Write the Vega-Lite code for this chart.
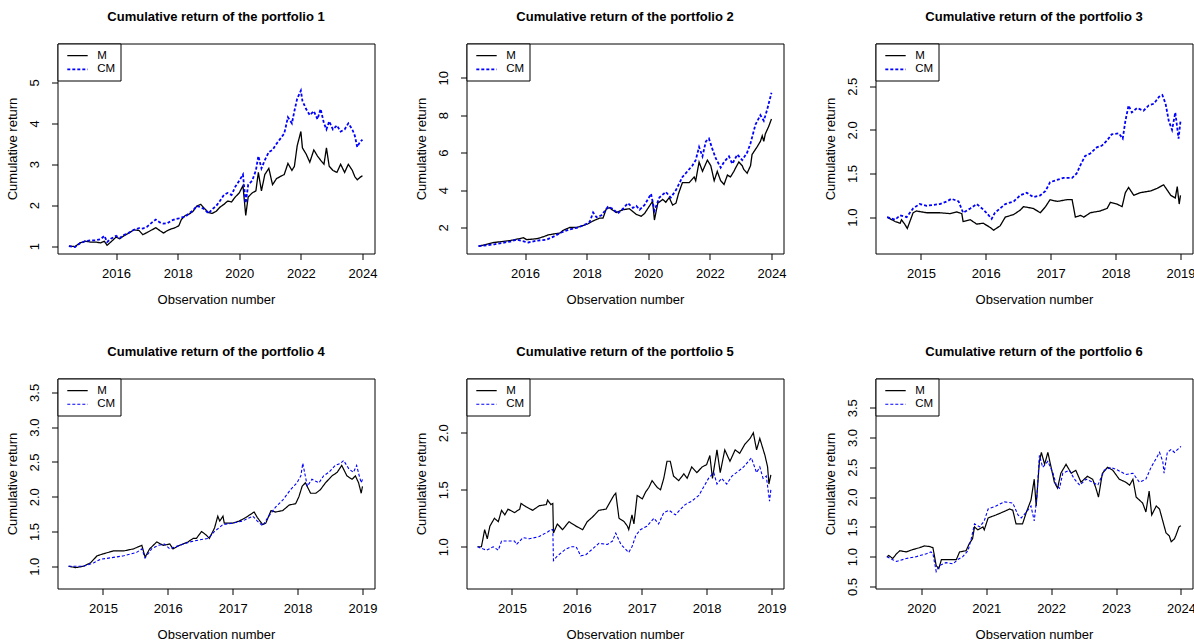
{
  "$schema": "https://vega.github.io/schema/vega-lite/v6.json",
  "autosize": {"type": "none"},
  "padding": {"left": 57.5, "top": 43.5, "right": 1136.5, "bottom": 600.5},
  "background": "white",
  "config": {
    "font": "Liberation Sans",
    "view": {"stroke": "black", "strokeWidth": 1},
    "title": {"fontSize": 13, "fontWeight": "bold", "color": "black", "anchor": "middle", "frame": "group", "baseline": "alphabetic", "offset": 19},
    "axis": {"domain": false, "grid": false, "tickColor": "black", "tickSize": 6, "tickWidth": 1, "labelFontSize": 13, "labelColor": "black", "titleFontSize": 13, "titleFontWeight": "normal", "titleColor": "black", "labelOverlap": false, "labelFlush": false},
    "axisX": {"labelPadding": 18.2, "labelBaseline": "alphabetic", "titleY": 50, "titleBaseline": "alphabetic"},
    "axisY": {"labelAngle": 270, "labelAlign": "center", "labelBaseline": "alphabetic", "labelPadding": 13, "titleX": -40.8, "titleBaseline": "alphabetic", "titleAngle": 270},
    "legend": {"orient": "top-left", "offset": 0, "padding": 5.2, "strokeColor": "black", "fillColor": "white", "cornerRadius": 0, "labelFontSize": 11.5, "labelColor": "black", "labelOffset": 20.6, "symbolType": "M-0.4,0H3", "symbolSize": 144, "rowPadding": 0.6, "labelLimit": 0}
  },
  "datasets": {
    "p1": [
      {"t":2014.47,"s":"M","v":1.00},{"t":2014.67,"s":"M","v":0.99},{"t":2014.83,"s":"M","v":1.08},{"t":2015.00,"s":"M","v":1.12},{"t":2015.17,"s":"M","v":1.10},{"t":2015.33,"s":"M","v":1.10},{"t":2015.50,"s":"M","v":1.08},{"t":2015.62,"s":"M","v":1.12},{"t":2015.71,"s":"M","v":1.02},{"t":2015.83,"s":"M","v":1.10},{"t":2016.00,"s":"M","v":1.22},{"t":2016.12,"s":"M","v":1.18},{"t":2016.25,"s":"M","v":1.25},{"t":2016.42,"s":"M","v":1.32},{"t":2016.58,"s":"M","v":1.40},{"t":2016.75,"s":"M","v":1.38},{"t":2016.87,"s":"M","v":1.28},{"t":2017.00,"s":"M","v":1.33},{"t":2017.17,"s":"M","v":1.40},{"t":2017.29,"s":"M","v":1.45},{"t":2017.42,"s":"M","v":1.38},{"t":2017.54,"s":"M","v":1.32},{"t":2017.67,"s":"M","v":1.38},{"t":2017.79,"s":"M","v":1.42},{"t":2017.92,"s":"M","v":1.45},{"t":2018.04,"s":"M","v":1.50},{"t":2018.12,"s":"M","v":1.65},{"t":2018.25,"s":"M","v":1.75},{"t":2018.37,"s":"M","v":1.78},{"t":2018.50,"s":"M","v":1.85},{"t":2018.62,"s":"M","v":1.98},{"t":2018.75,"s":"M","v":2.02},{"t":2018.87,"s":"M","v":1.92},{"t":2019.00,"s":"M","v":1.82},{"t":2019.12,"s":"M","v":1.80},{"t":2019.25,"s":"M","v":1.85},{"t":2019.37,"s":"M","v":1.95},{"t":2019.50,"s":"M","v":2.02},{"t":2019.62,"s":"M","v":2.10},{"t":2019.75,"s":"M","v":2.08},{"t":2019.87,"s":"M","v":2.20},{"t":2020.00,"s":"M","v":2.30},{"t":2020.12,"s":"M","v":2.48},{"t":2020.21,"s":"M","v":1.75},{"t":2020.29,"s":"M","v":2.20},{"t":2020.42,"s":"M","v":2.30},{"t":2020.54,"s":"M","v":2.35},{"t":2020.62,"s":"M","v":2.80},{"t":2020.72,"s":"M","v":2.35},{"t":2020.83,"s":"M","v":2.75},{"t":2020.96,"s":"M","v":2.90},{"t":2021.08,"s":"M","v":2.50},{"t":2021.21,"s":"M","v":2.65},{"t":2021.33,"s":"M","v":2.70},{"t":2021.46,"s":"M","v":2.75},{"t":2021.58,"s":"M","v":3.02},{"t":2021.71,"s":"M","v":2.85},{"t":2021.79,"s":"M","v":2.95},{"t":2021.88,"s":"M","v":3.45},{"t":2022.00,"s":"M","v":3.80},{"t":2022.05,"s":"M","v":3.40},{"t":2022.17,"s":"M","v":3.25},{"t":2022.29,"s":"M","v":3.05},{"t":2022.42,"s":"M","v":3.35},{"t":2022.54,"s":"M","v":3.20},{"t":2022.64,"s":"M","v":3.10},{"t":2022.75,"s":"M","v":3.00},{"t":2022.83,"s":"M","v":3.40},{"t":2022.92,"s":"M","v":2.95},{"t":2023.04,"s":"M","v":2.85},{"t":2023.17,"s":"M","v":2.80},{"t":2023.29,"s":"M","v":3.00},{"t":2023.42,"s":"M","v":2.80},{"t":2023.54,"s":"M","v":3.00},{"t":2023.67,"s":"M","v":2.85},{"t":2023.75,"s":"M","v":2.70},{"t":2023.83,"s":"M","v":2.62},{"t":2023.92,"s":"M","v":2.68},{"t":2024.00,"s":"M","v":2.72},
      {"t":2014.47,"s":"CM","v":1.00},{"t":2014.67,"s":"CM","v":0.98},{"t":2014.83,"s":"CM","v":1.07},{"t":2015.00,"s":"CM","v":1.12},{"t":2015.17,"s":"CM","v":1.14},{"t":2015.33,"s":"CM","v":1.14},{"t":2015.50,"s":"CM","v":1.17},{"t":2015.62,"s":"CM","v":1.25},{"t":2015.71,"s":"CM","v":1.10},{"t":2015.83,"s":"CM","v":1.18},{"t":2016.00,"s":"CM","v":1.25},{"t":2016.12,"s":"CM","v":1.20},{"t":2016.25,"s":"CM","v":1.27},{"t":2016.42,"s":"CM","v":1.33},{"t":2016.58,"s":"CM","v":1.40},{"t":2016.75,"s":"CM","v":1.44},{"t":2016.87,"s":"CM","v":1.43},{"t":2017.00,"s":"CM","v":1.47},{"t":2017.17,"s":"CM","v":1.58},{"t":2017.29,"s":"CM","v":1.65},{"t":2017.42,"s":"CM","v":1.58},{"t":2017.54,"s":"CM","v":1.55},{"t":2017.67,"s":"CM","v":1.56},{"t":2017.79,"s":"CM","v":1.62},{"t":2017.92,"s":"CM","v":1.66},{"t":2018.04,"s":"CM","v":1.68},{"t":2018.12,"s":"CM","v":1.70},{"t":2018.25,"s":"CM","v":1.72},{"t":2018.37,"s":"CM","v":1.80},{"t":2018.50,"s":"CM","v":1.87},{"t":2018.62,"s":"CM","v":1.98},{"t":2018.75,"s":"CM","v":1.95},{"t":2018.87,"s":"CM","v":1.90},{"t":2019.00,"s":"CM","v":1.80},{"t":2019.12,"s":"CM","v":1.90},{"t":2019.25,"s":"CM","v":1.98},{"t":2019.37,"s":"CM","v":2.10},{"t":2019.50,"s":"CM","v":2.25},{"t":2019.62,"s":"CM","v":2.30},{"t":2019.75,"s":"CM","v":2.25},{"t":2019.87,"s":"CM","v":2.45},{"t":2020.00,"s":"CM","v":2.60},{"t":2020.12,"s":"CM","v":2.75},{"t":2020.21,"s":"CM","v":2.05},{"t":2020.29,"s":"CM","v":2.50},{"t":2020.42,"s":"CM","v":2.60},{"t":2020.54,"s":"CM","v":2.85},{"t":2020.62,"s":"CM","v":3.20},{"t":2020.72,"s":"CM","v":2.90},{"t":2020.83,"s":"CM","v":3.10},{"t":2020.96,"s":"CM","v":3.30},{"t":2021.08,"s":"CM","v":3.35},{"t":2021.21,"s":"CM","v":3.50},{"t":2021.33,"s":"CM","v":3.62},{"t":2021.46,"s":"CM","v":3.75},{"t":2021.58,"s":"CM","v":4.15},{"t":2021.71,"s":"CM","v":4.00},{"t":2021.79,"s":"CM","v":4.30},{"t":2021.88,"s":"CM","v":4.60},{"t":2022.00,"s":"CM","v":4.80},{"t":2022.05,"s":"CM","v":4.55},{"t":2022.17,"s":"CM","v":4.35},{"t":2022.29,"s":"CM","v":4.20},{"t":2022.42,"s":"CM","v":4.30},{"t":2022.54,"s":"CM","v":4.10},{"t":2022.64,"s":"CM","v":4.35},{"t":2022.75,"s":"CM","v":4.00},{"t":2022.83,"s":"CM","v":3.85},{"t":2022.92,"s":"CM","v":4.05},{"t":2023.04,"s":"CM","v":3.85},{"t":2023.17,"s":"CM","v":3.95},{"t":2023.29,"s":"CM","v":3.80},{"t":2023.42,"s":"CM","v":3.85},{"t":2023.54,"s":"CM","v":4.00},{"t":2023.67,"s":"CM","v":3.85},{"t":2023.75,"s":"CM","v":3.70},{"t":2023.83,"s":"CM","v":3.42},{"t":2023.92,"s":"CM","v":3.55},{"t":2024.00,"s":"CM","v":3.60}
    ],
    "p2": [
      {"t":2014.49,"s":"M","v":1.00},{"t":2015.00,"s":"M","v":1.20},{"t":2015.52,"s":"M","v":1.30},{"t":2015.95,"s":"M","v":1.45},{"t":2016.05,"s":"M","v":1.35},{"t":2016.38,"s":"M","v":1.40},{"t":2016.59,"s":"M","v":1.50},{"t":2016.75,"s":"M","v":1.60},{"t":2016.91,"s":"M","v":1.65},{"t":2017.13,"s":"M","v":1.70},{"t":2017.24,"s":"M","v":1.85},{"t":2017.45,"s":"M","v":2.00},{"t":2017.67,"s":"M","v":2.00},{"t":2017.88,"s":"M","v":2.10},{"t":2018.05,"s":"M","v":2.20},{"t":2018.21,"s":"M","v":2.35},{"t":2018.42,"s":"M","v":2.50},{"t":2018.53,"s":"M","v":2.50},{"t":2018.64,"s":"M","v":3.00},{"t":2018.74,"s":"M","v":3.05},{"t":2018.96,"s":"M","v":2.80},{"t":2019.18,"s":"M","v":2.95},{"t":2019.39,"s":"M","v":3.00},{"t":2019.61,"s":"M","v":2.70},{"t":2019.77,"s":"M","v":2.60},{"t":2019.88,"s":"M","v":2.75},{"t":2019.98,"s":"M","v":3.00},{"t":2020.14,"s":"M","v":3.40},{"t":2020.20,"s":"M","v":2.40},{"t":2020.31,"s":"M","v":3.30},{"t":2020.47,"s":"M","v":3.50},{"t":2020.57,"s":"M","v":3.35},{"t":2020.68,"s":"M","v":3.60},{"t":2020.79,"s":"M","v":3.20},{"t":2020.90,"s":"M","v":3.30},{"t":2020.98,"s":"M","v":3.80},{"t":2021.11,"s":"M","v":4.40},{"t":2021.33,"s":"M","v":4.40},{"t":2021.49,"s":"M","v":4.70},{"t":2021.54,"s":"M","v":4.50},{"t":2021.65,"s":"M","v":5.50},{"t":2021.76,"s":"M","v":5.00},{"t":2021.92,"s":"M","v":5.60},{"t":2022.03,"s":"M","v":5.30},{"t":2022.14,"s":"M","v":4.50},{"t":2022.24,"s":"M","v":5.00},{"t":2022.35,"s":"M","v":4.50},{"t":2022.46,"s":"M","v":4.30},{"t":2022.57,"s":"M","v":4.80},{"t":2022.67,"s":"M","v":4.70},{"t":2022.78,"s":"M","v":5.00},{"t":2022.84,"s":"M","v":5.20},{"t":2022.94,"s":"M","v":5.50},{"t":2023.05,"s":"M","v":5.30},{"t":2023.10,"s":"M","v":5.10},{"t":2023.21,"s":"M","v":4.90},{"t":2023.32,"s":"M","v":5.30},{"t":2023.37,"s":"M","v":5.90},{"t":2023.53,"s":"M","v":6.30},{"t":2023.64,"s":"M","v":6.60},{"t":2023.70,"s":"M","v":6.90},{"t":2023.75,"s":"M","v":6.60},{"t":2023.80,"s":"M","v":7.00},{"t":2023.91,"s":"M","v":7.40},{"t":2024.00,"s":"M","v":7.80},
      {"t":2014.49,"s":"CM","v":1.00},{"t":2015.00,"s":"CM","v":1.10},{"t":2015.52,"s":"CM","v":1.25},{"t":2015.73,"s":"CM","v":1.35},{"t":2016.11,"s":"CM","v":1.20},{"t":2016.38,"s":"CM","v":1.30},{"t":2016.70,"s":"CM","v":1.35},{"t":2016.97,"s":"CM","v":1.55},{"t":2017.13,"s":"CM","v":1.70},{"t":2017.45,"s":"CM","v":1.90},{"t":2017.72,"s":"CM","v":2.00},{"t":2017.94,"s":"CM","v":2.15},{"t":2018.10,"s":"CM","v":2.30},{"t":2018.21,"s":"CM","v":2.80},{"t":2018.32,"s":"CM","v":2.55},{"t":2018.48,"s":"CM","v":2.65},{"t":2018.69,"s":"CM","v":3.10},{"t":2018.85,"s":"CM","v":3.00},{"t":2019.01,"s":"CM","v":2.75},{"t":2019.18,"s":"CM","v":3.00},{"t":2019.34,"s":"CM","v":3.30},{"t":2019.50,"s":"CM","v":3.05},{"t":2019.61,"s":"CM","v":3.15},{"t":2019.72,"s":"CM","v":2.95},{"t":2019.88,"s":"CM","v":3.20},{"t":2020.09,"s":"CM","v":3.80},{"t":2020.20,"s":"CM","v":2.90},{"t":2020.36,"s":"CM","v":3.60},{"t":2020.57,"s":"CM","v":3.90},{"t":2020.73,"s":"CM","v":3.60},{"t":2020.90,"s":"CM","v":4.00},{"t":2021.11,"s":"CM","v":4.70},{"t":2021.27,"s":"CM","v":5.00},{"t":2021.43,"s":"CM","v":5.30},{"t":2021.54,"s":"CM","v":5.60},{"t":2021.65,"s":"CM","v":6.30},{"t":2021.76,"s":"CM","v":5.80},{"t":2021.87,"s":"CM","v":6.60},{"t":2021.97,"s":"CM","v":6.75},{"t":2022.08,"s":"CM","v":6.20},{"t":2022.19,"s":"CM","v":5.70},{"t":2022.35,"s":"CM","v":5.20},{"t":2022.46,"s":"CM","v":5.50},{"t":2022.62,"s":"CM","v":5.80},{"t":2022.73,"s":"CM","v":5.40},{"t":2022.89,"s":"CM","v":5.90},{"t":2023.05,"s":"CM","v":5.60},{"t":2023.21,"s":"CM","v":6.00},{"t":2023.32,"s":"CM","v":6.50},{"t":2023.48,"s":"CM","v":7.50},{"t":2023.64,"s":"CM","v":8.00},{"t":2023.75,"s":"CM","v":7.70},{"t":2023.86,"s":"CM","v":8.30},{"t":2024.00,"s":"CM","v":9.20}
    ],
    "p3": [
      {"t":2014.48,"s":"M","v":1.00},{"t":2014.60,"s":"M","v":0.95},{"t":2014.68,"s":"M","v":0.93},{"t":2014.70,"s":"M","v":0.97},{"t":2014.75,"s":"M","v":0.92},{"t":2014.79,"s":"M","v":0.87},{"t":2014.88,"s":"M","v":1.05},{"t":2014.93,"s":"M","v":1.07},{"t":2015.09,"s":"M","v":1.05},{"t":2015.29,"s":"M","v":1.05},{"t":2015.45,"s":"M","v":1.04},{"t":2015.55,"s":"M","v":1.06},{"t":2015.63,"s":"M","v":1.04},{"t":2015.65,"s":"M","v":0.95},{"t":2015.76,"s":"M","v":0.97},{"t":2015.86,"s":"M","v":0.92},{"t":2015.96,"s":"M","v":0.93},{"t":2016.07,"s":"M","v":0.88},{"t":2016.12,"s":"M","v":0.85},{"t":2016.22,"s":"M","v":0.90},{"t":2016.30,"s":"M","v":1.00},{"t":2016.43,"s":"M","v":1.03},{"t":2016.53,"s":"M","v":1.08},{"t":2016.58,"s":"M","v":1.12},{"t":2016.73,"s":"M","v":1.10},{"t":2016.84,"s":"M","v":1.05},{"t":2016.92,"s":"M","v":1.12},{"t":2016.99,"s":"M","v":1.20},{"t":2017.10,"s":"M","v":1.18},{"t":2017.25,"s":"M","v":1.20},{"t":2017.33,"s":"M","v":1.20},{"t":2017.38,"s":"M","v":1.00},{"t":2017.46,"s":"M","v":1.02},{"t":2017.51,"s":"M","v":1.00},{"t":2017.61,"s":"M","v":1.05},{"t":2017.76,"s":"M","v":1.07},{"t":2017.87,"s":"M","v":1.10},{"t":2017.92,"s":"M","v":1.17},{"t":2018.02,"s":"M","v":1.15},{"t":2018.10,"s":"M","v":1.12},{"t":2018.15,"s":"M","v":1.28},{"t":2018.20,"s":"M","v":1.34},{"t":2018.28,"s":"M","v":1.25},{"t":2018.38,"s":"M","v":1.28},{"t":2018.54,"s":"M","v":1.30},{"t":2018.64,"s":"M","v":1.33},{"t":2018.74,"s":"M","v":1.37},{"t":2018.85,"s":"M","v":1.25},{"t":2018.92,"s":"M","v":1.22},{"t":2018.95,"s":"M","v":1.35},{"t":2018.98,"s":"M","v":1.15},{"t":2019.00,"s":"M","v":1.25},
      {"t":2014.48,"s":"CM","v":1.00},{"t":2014.60,"s":"CM","v":0.97},{"t":2014.68,"s":"CM","v":1.02},{"t":2014.78,"s":"CM","v":1.00},{"t":2014.88,"s":"CM","v":1.10},{"t":2014.98,"s":"CM","v":1.15},{"t":2015.09,"s":"CM","v":1.13},{"t":2015.29,"s":"CM","v":1.15},{"t":2015.40,"s":"CM","v":1.18},{"t":2015.47,"s":"CM","v":1.21},{"t":2015.58,"s":"CM","v":1.18},{"t":2015.65,"s":"CM","v":1.05},{"t":2015.76,"s":"CM","v":1.10},{"t":2015.86,"s":"CM","v":1.15},{"t":2015.94,"s":"CM","v":1.10},{"t":2016.01,"s":"CM","v":1.05},{"t":2016.09,"s":"CM","v":0.98},{"t":2016.14,"s":"CM","v":1.05},{"t":2016.22,"s":"CM","v":1.10},{"t":2016.30,"s":"CM","v":1.15},{"t":2016.43,"s":"CM","v":1.18},{"t":2016.53,"s":"CM","v":1.25},{"t":2016.63,"s":"CM","v":1.28},{"t":2016.73,"s":"CM","v":1.23},{"t":2016.84,"s":"CM","v":1.25},{"t":2016.92,"s":"CM","v":1.30},{"t":2016.99,"s":"CM","v":1.40},{"t":2017.07,"s":"CM","v":1.42},{"t":2017.20,"s":"CM","v":1.45},{"t":2017.33,"s":"CM","v":1.45},{"t":2017.40,"s":"CM","v":1.50},{"t":2017.46,"s":"CM","v":1.60},{"t":2017.53,"s":"CM","v":1.70},{"t":2017.61,"s":"CM","v":1.73},{"t":2017.71,"s":"CM","v":1.80},{"t":2017.79,"s":"CM","v":1.82},{"t":2017.87,"s":"CM","v":1.88},{"t":2017.94,"s":"CM","v":1.95},{"t":2018.05,"s":"CM","v":1.96},{"t":2018.11,"s":"CM","v":1.90},{"t":2018.15,"s":"CM","v":2.10},{"t":2018.20,"s":"CM","v":2.28},{"t":2018.25,"s":"CM","v":2.20},{"t":2018.33,"s":"CM","v":2.25},{"t":2018.43,"s":"CM","v":2.22},{"t":2018.51,"s":"CM","v":2.28},{"t":2018.59,"s":"CM","v":2.30},{"t":2018.67,"s":"CM","v":2.38},{"t":2018.72,"s":"CM","v":2.40},{"t":2018.77,"s":"CM","v":2.30},{"t":2018.82,"s":"CM","v":2.10},{"t":2018.87,"s":"CM","v":2.00},{"t":2018.92,"s":"CM","v":2.20},{"t":2018.97,"s":"CM","v":1.90},{"t":2019.00,"s":"CM","v":2.10}
    ],
    "p4": [
      {"t":2014.47,"s":"M","v":1.00},{"t":2014.58,"s":"M","v":0.98},{"t":2014.70,"s":"M","v":1.00},{"t":2014.81,"s":"M","v":1.05},{"t":2014.91,"s":"M","v":1.15},{"t":2015.01,"s":"M","v":1.18},{"t":2015.16,"s":"M","v":1.22},{"t":2015.32,"s":"M","v":1.22},{"t":2015.47,"s":"M","v":1.25},{"t":2015.60,"s":"M","v":1.30},{"t":2015.65,"s":"M","v":1.13},{"t":2015.72,"s":"M","v":1.25},{"t":2015.83,"s":"M","v":1.35},{"t":2015.93,"s":"M","v":1.30},{"t":2016.03,"s":"M","v":1.32},{"t":2016.08,"s":"M","v":1.25},{"t":2016.18,"s":"M","v":1.30},{"t":2016.31,"s":"M","v":1.35},{"t":2016.39,"s":"M","v":1.40},{"t":2016.44,"s":"M","v":1.40},{"t":2016.52,"s":"M","v":1.50},{"t":2016.59,"s":"M","v":1.45},{"t":2016.64,"s":"M","v":1.40},{"t":2016.72,"s":"M","v":1.55},{"t":2016.77,"s":"M","v":1.72},{"t":2016.80,"s":"M","v":1.65},{"t":2016.85,"s":"M","v":1.72},{"t":2016.87,"s":"M","v":1.62},{"t":2017.00,"s":"M","v":1.62},{"t":2017.10,"s":"M","v":1.65},{"t":2017.20,"s":"M","v":1.70},{"t":2017.33,"s":"M","v":1.78},{"t":2017.38,"s":"M","v":1.70},{"t":2017.46,"s":"M","v":1.60},{"t":2017.51,"s":"M","v":1.62},{"t":2017.59,"s":"M","v":1.80},{"t":2017.66,"s":"M","v":1.78},{"t":2017.77,"s":"M","v":1.80},{"t":2017.87,"s":"M","v":1.88},{"t":2017.97,"s":"M","v":1.90},{"t":2018.02,"s":"M","v":2.00},{"t":2018.07,"s":"M","v":2.15},{"t":2018.12,"s":"M","v":2.20},{"t":2018.20,"s":"M","v":2.05},{"t":2018.28,"s":"M","v":2.05},{"t":2018.35,"s":"M","v":2.10},{"t":2018.43,"s":"M","v":2.20},{"t":2018.53,"s":"M","v":2.30},{"t":2018.61,"s":"M","v":2.35},{"t":2018.68,"s":"M","v":2.45},{"t":2018.76,"s":"M","v":2.30},{"t":2018.84,"s":"M","v":2.25},{"t":2018.89,"s":"M","v":2.30},{"t":2018.94,"s":"M","v":2.20},{"t":2018.98,"s":"M","v":2.05},{"t":2019.00,"s":"M","v":2.15},
      {"t":2014.47,"s":"CM","v":1.00},{"t":2014.70,"s":"CM","v":1.00},{"t":2014.86,"s":"CM","v":1.05},{"t":2014.96,"s":"CM","v":1.10},{"t":2015.11,"s":"CM","v":1.12},{"t":2015.32,"s":"CM","v":1.15},{"t":2015.52,"s":"CM","v":1.20},{"t":2015.60,"s":"CM","v":1.25},{"t":2015.65,"s":"CM","v":1.12},{"t":2015.75,"s":"CM","v":1.25},{"t":2015.85,"s":"CM","v":1.30},{"t":2015.95,"s":"CM","v":1.32},{"t":2016.03,"s":"CM","v":1.25},{"t":2016.18,"s":"CM","v":1.30},{"t":2016.34,"s":"CM","v":1.35},{"t":2016.49,"s":"CM","v":1.38},{"t":2016.62,"s":"CM","v":1.40},{"t":2016.72,"s":"CM","v":1.50},{"t":2016.85,"s":"CM","v":1.60},{"t":2017.00,"s":"CM","v":1.62},{"t":2017.15,"s":"CM","v":1.65},{"t":2017.31,"s":"CM","v":1.72},{"t":2017.38,"s":"CM","v":1.65},{"t":2017.46,"s":"CM","v":1.58},{"t":2017.54,"s":"CM","v":1.70},{"t":2017.66,"s":"CM","v":1.85},{"t":2017.77,"s":"CM","v":1.95},{"t":2017.89,"s":"CM","v":2.10},{"t":2017.99,"s":"CM","v":2.20},{"t":2018.05,"s":"CM","v":2.30},{"t":2018.08,"s":"CM","v":2.48},{"t":2018.15,"s":"CM","v":2.15},{"t":2018.22,"s":"CM","v":2.25},{"t":2018.33,"s":"CM","v":2.20},{"t":2018.40,"s":"CM","v":2.30},{"t":2018.48,"s":"CM","v":2.35},{"t":2018.58,"s":"CM","v":2.45},{"t":2018.66,"s":"CM","v":2.48},{"t":2018.71,"s":"CM","v":2.52},{"t":2018.79,"s":"CM","v":2.40},{"t":2018.86,"s":"CM","v":2.35},{"t":2018.91,"s":"CM","v":2.45},{"t":2018.95,"s":"CM","v":2.30},{"t":2018.98,"s":"CM","v":2.20},{"t":2019.00,"s":"CM","v":2.25}
    ],
    "p5": [
      {"t":2014.47,"s":"M","v":1.00},{"t":2014.53,"s":"M","v":1.00},{"t":2014.58,"s":"M","v":1.15},{"t":2014.62,"s":"M","v":1.07},{"t":2014.66,"s":"M","v":1.18},{"t":2014.73,"s":"M","v":1.25},{"t":2014.79,"s":"M","v":1.22},{"t":2014.84,"s":"M","v":1.32},{"t":2014.89,"s":"M","v":1.28},{"t":2014.94,"s":"M","v":1.33},{"t":2015.04,"s":"M","v":1.30},{"t":2015.12,"s":"M","v":1.33},{"t":2015.14,"s":"M","v":1.38},{"t":2015.22,"s":"M","v":1.35},{"t":2015.32,"s":"M","v":1.32},{"t":2015.42,"s":"M","v":1.36},{"t":2015.53,"s":"M","v":1.37},{"t":2015.55,"s":"M","v":1.41},{"t":2015.60,"s":"M","v":1.37},{"t":2015.63,"s":"M","v":1.38},{"t":2015.64,"s":"M","v":1.12},{"t":2015.70,"s":"M","v":1.20},{"t":2015.78,"s":"M","v":1.15},{"t":2015.88,"s":"M","v":1.22},{"t":2015.99,"s":"M","v":1.18},{"t":2016.09,"s":"M","v":1.15},{"t":2016.16,"s":"M","v":1.22},{"t":2016.24,"s":"M","v":1.26},{"t":2016.34,"s":"M","v":1.32},{"t":2016.45,"s":"M","v":1.33},{"t":2016.52,"s":"M","v":1.40},{"t":2016.57,"s":"M","v":1.45},{"t":2016.60,"s":"M","v":1.47},{"t":2016.65,"s":"M","v":1.25},{"t":2016.73,"s":"M","v":1.22},{"t":2016.78,"s":"M","v":1.18},{"t":2016.80,"s":"M","v":1.15},{"t":2016.85,"s":"M","v":1.28},{"t":2016.88,"s":"M","v":1.20},{"t":2016.93,"s":"M","v":1.45},{"t":2017.01,"s":"M","v":1.42},{"t":2017.06,"s":"M","v":1.48},{"t":2017.11,"s":"M","v":1.52},{"t":2017.16,"s":"M","v":1.58},{"t":2017.24,"s":"M","v":1.52},{"t":2017.29,"s":"M","v":1.50},{"t":2017.34,"s":"M","v":1.60},{"t":2017.39,"s":"M","v":1.75},{"t":2017.44,"s":"M","v":1.75},{"t":2017.49,"s":"M","v":1.62},{"t":2017.57,"s":"M","v":1.58},{"t":2017.65,"s":"M","v":1.64},{"t":2017.70,"s":"M","v":1.60},{"t":2017.77,"s":"M","v":1.70},{"t":2017.85,"s":"M","v":1.65},{"t":2017.93,"s":"M","v":1.70},{"t":2018.00,"s":"M","v":1.72},{"t":2018.05,"s":"M","v":1.80},{"t":2018.09,"s":"M","v":1.60},{"t":2018.16,"s":"M","v":1.85},{"t":2018.21,"s":"M","v":1.65},{"t":2018.28,"s":"M","v":1.85},{"t":2018.36,"s":"M","v":1.75},{"t":2018.44,"s":"M","v":1.85},{"t":2018.51,"s":"M","v":1.82},{"t":2018.59,"s":"M","v":1.90},{"t":2018.67,"s":"M","v":1.95},{"t":2018.72,"s":"M","v":2.00},{"t":2018.77,"s":"M","v":1.85},{"t":2018.82,"s":"M","v":1.95},{"t":2018.90,"s":"M","v":1.80},{"t":2018.94,"s":"M","v":1.70},{"t":2018.96,"s":"M","v":1.55},{"t":2018.99,"s":"M","v":1.63},
      {"t":2014.47,"s":"CM","v":1.00},{"t":2014.56,"s":"CM","v":0.98},{"t":2014.61,"s":"CM","v":0.97},{"t":2014.71,"s":"CM","v":1.00},{"t":2014.79,"s":"CM","v":0.97},{"t":2014.84,"s":"CM","v":1.05},{"t":2014.96,"s":"CM","v":1.05},{"t":2015.04,"s":"CM","v":1.05},{"t":2015.07,"s":"CM","v":1.02},{"t":2015.17,"s":"CM","v":1.08},{"t":2015.27,"s":"CM","v":1.07},{"t":2015.42,"s":"CM","v":1.09},{"t":2015.55,"s":"CM","v":1.13},{"t":2015.60,"s":"CM","v":1.15},{"t":2015.63,"s":"CM","v":1.15},{"t":2015.64,"s":"CM","v":0.88},{"t":2015.70,"s":"CM","v":0.92},{"t":2015.83,"s":"CM","v":0.98},{"t":2015.91,"s":"CM","v":1.00},{"t":2015.99,"s":"CM","v":1.00},{"t":2016.06,"s":"CM","v":0.92},{"t":2016.14,"s":"CM","v":0.93},{"t":2016.24,"s":"CM","v":0.98},{"t":2016.34,"s":"CM","v":1.03},{"t":2016.47,"s":"CM","v":1.02},{"t":2016.55,"s":"CM","v":1.05},{"t":2016.60,"s":"CM","v":1.12},{"t":2016.68,"s":"CM","v":1.02},{"t":2016.75,"s":"CM","v":0.98},{"t":2016.80,"s":"CM","v":0.95},{"t":2016.85,"s":"CM","v":1.00},{"t":2016.91,"s":"CM","v":1.10},{"t":2016.98,"s":"CM","v":1.15},{"t":2017.08,"s":"CM","v":1.18},{"t":2017.19,"s":"CM","v":1.25},{"t":2017.26,"s":"CM","v":1.20},{"t":2017.34,"s":"CM","v":1.30},{"t":2017.42,"s":"CM","v":1.32},{"t":2017.52,"s":"CM","v":1.28},{"t":2017.60,"s":"CM","v":1.33},{"t":2017.67,"s":"CM","v":1.37},{"t":2017.77,"s":"CM","v":1.40},{"t":2017.88,"s":"CM","v":1.45},{"t":2017.95,"s":"CM","v":1.52},{"t":2018.03,"s":"CM","v":1.60},{"t":2018.11,"s":"CM","v":1.65},{"t":2018.16,"s":"CM","v":1.55},{"t":2018.23,"s":"CM","v":1.60},{"t":2018.31,"s":"CM","v":1.55},{"t":2018.39,"s":"CM","v":1.62},{"t":2018.46,"s":"CM","v":1.65},{"t":2018.57,"s":"CM","v":1.70},{"t":2018.69,"s":"CM","v":1.78},{"t":2018.77,"s":"CM","v":1.65},{"t":2018.82,"s":"CM","v":1.70},{"t":2018.87,"s":"CM","v":1.60},{"t":2018.92,"s":"CM","v":1.62},{"t":2018.97,"s":"CM","v":1.40},{"t":2018.99,"s":"CM","v":1.50}
    ],
    "p6": [
      {"t":2019.47,"s":"M","v":1.00},{"t":2019.50,"s":"M","v":1.02},{"t":2019.56,"s":"M","v":0.97},{"t":2019.62,"s":"M","v":1.05},{"t":2019.67,"s":"M","v":1.10},{"t":2019.77,"s":"M","v":1.08},{"t":2019.87,"s":"M","v":1.12},{"t":2019.97,"s":"M","v":1.15},{"t":2020.05,"s":"M","v":1.18},{"t":2020.13,"s":"M","v":1.17},{"t":2020.18,"s":"M","v":1.15},{"t":2020.23,"s":"M","v":0.85},{"t":2020.27,"s":"M","v":0.80},{"t":2020.31,"s":"M","v":0.95},{"t":2020.44,"s":"M","v":0.95},{"t":2020.54,"s":"M","v":0.95},{"t":2020.59,"s":"M","v":1.08},{"t":2020.69,"s":"M","v":1.10},{"t":2020.74,"s":"M","v":1.22},{"t":2020.79,"s":"M","v":1.30},{"t":2020.82,"s":"M","v":1.50},{"t":2020.87,"s":"M","v":1.45},{"t":2020.95,"s":"M","v":1.50},{"t":2020.97,"s":"M","v":1.45},{"t":2021.03,"s":"M","v":1.65},{"t":2021.15,"s":"M","v":1.70},{"t":2021.26,"s":"M","v":1.75},{"t":2021.36,"s":"M","v":1.80},{"t":2021.41,"s":"M","v":1.78},{"t":2021.46,"s":"M","v":1.55},{"t":2021.56,"s":"M","v":1.55},{"t":2021.62,"s":"M","v":1.75},{"t":2021.69,"s":"M","v":1.95},{"t":2021.74,"s":"M","v":2.30},{"t":2021.77,"s":"M","v":1.85},{"t":2021.82,"s":"M","v":2.60},{"t":2021.85,"s":"M","v":2.75},{"t":2021.90,"s":"M","v":2.55},{"t":2021.95,"s":"M","v":2.75},{"t":2022.00,"s":"M","v":2.50},{"t":2022.05,"s":"M","v":2.25},{"t":2022.10,"s":"M","v":2.15},{"t":2022.15,"s":"M","v":2.40},{"t":2022.23,"s":"M","v":2.55},{"t":2022.31,"s":"M","v":2.40},{"t":2022.38,"s":"M","v":2.45},{"t":2022.46,"s":"M","v":2.25},{"t":2022.56,"s":"M","v":2.35},{"t":2022.64,"s":"M","v":2.30},{"t":2022.69,"s":"M","v":2.15},{"t":2022.73,"s":"M","v":2.00},{"t":2022.79,"s":"M","v":2.40},{"t":2022.87,"s":"M","v":2.50},{"t":2022.95,"s":"M","v":2.45},{"t":2023.05,"s":"M","v":2.30},{"t":2023.15,"s":"M","v":2.25},{"t":2023.21,"s":"M","v":2.20},{"t":2023.26,"s":"M","v":2.30},{"t":2023.31,"s":"M","v":2.00},{"t":2023.41,"s":"M","v":1.90},{"t":2023.46,"s":"M","v":1.75},{"t":2023.51,"s":"M","v":2.10},{"t":2023.55,"s":"M","v":1.70},{"t":2023.62,"s":"M","v":1.85},{"t":2023.67,"s":"M","v":1.80},{"t":2023.72,"s":"M","v":1.60},{"t":2023.77,"s":"M","v":1.40},{"t":2023.82,"s":"M","v":1.35},{"t":2023.85,"s":"M","v":1.25},{"t":2023.90,"s":"M","v":1.30},{"t":2023.92,"s":"M","v":1.35},{"t":2023.97,"s":"M","v":1.50},{"t":2024.00,"s":"M","v":1.52},
      {"t":2019.47,"s":"CM","v":1.00},{"t":2019.56,"s":"CM","v":0.95},{"t":2019.62,"s":"CM","v":0.92},{"t":2019.77,"s":"CM","v":0.97},{"t":2019.92,"s":"CM","v":1.00},{"t":2020.08,"s":"CM","v":1.05},{"t":2020.15,"s":"CM","v":1.08},{"t":2020.18,"s":"CM","v":1.05},{"t":2020.23,"s":"CM","v":0.75},{"t":2020.28,"s":"CM","v":0.85},{"t":2020.38,"s":"CM","v":0.90},{"t":2020.49,"s":"CM","v":0.88},{"t":2020.56,"s":"CM","v":0.95},{"t":2020.64,"s":"CM","v":1.00},{"t":2020.72,"s":"CM","v":1.10},{"t":2020.77,"s":"CM","v":1.30},{"t":2020.82,"s":"CM","v":1.55},{"t":2020.90,"s":"CM","v":1.50},{"t":2020.97,"s":"CM","v":1.60},{"t":2021.03,"s":"CM","v":1.80},{"t":2021.15,"s":"CM","v":1.85},{"t":2021.28,"s":"CM","v":1.92},{"t":2021.41,"s":"CM","v":1.90},{"t":2021.49,"s":"CM","v":1.70},{"t":2021.54,"s":"CM","v":1.65},{"t":2021.62,"s":"CM","v":1.75},{"t":2021.69,"s":"CM","v":1.85},{"t":2021.74,"s":"CM","v":1.60},{"t":2021.78,"s":"CM","v":2.00},{"t":2021.82,"s":"CM","v":2.70},{"t":2021.87,"s":"CM","v":2.50},{"t":2021.95,"s":"CM","v":2.60},{"t":2022.03,"s":"CM","v":2.40},{"t":2022.08,"s":"CM","v":2.20},{"t":2022.13,"s":"CM","v":2.15},{"t":2022.18,"s":"CM","v":2.40},{"t":2022.28,"s":"CM","v":2.45},{"t":2022.36,"s":"CM","v":2.30},{"t":2022.44,"s":"CM","v":2.20},{"t":2022.54,"s":"CM","v":2.30},{"t":2022.64,"s":"CM","v":2.25},{"t":2022.72,"s":"CM","v":2.20},{"t":2022.82,"s":"CM","v":2.45},{"t":2022.92,"s":"CM","v":2.50},{"t":2023.03,"s":"CM","v":2.45},{"t":2023.15,"s":"CM","v":2.38},{"t":2023.26,"s":"CM","v":2.40},{"t":2023.36,"s":"CM","v":2.25},{"t":2023.46,"s":"CM","v":2.30},{"t":2023.54,"s":"CM","v":2.50},{"t":2023.62,"s":"CM","v":2.65},{"t":2023.67,"s":"CM","v":2.75},{"t":2023.72,"s":"CM","v":2.60},{"t":2023.74,"s":"CM","v":2.40},{"t":2023.79,"s":"CM","v":2.75},{"t":2023.85,"s":"CM","v":2.80},{"t":2023.90,"s":"CM","v":2.75},{"t":2023.95,"s":"CM","v":2.80},{"t":2024.00,"s":"CM","v":2.85}
    ]
  },
  "columns": 3,
  "spacing": {"row": 125, "column": 92},
  "bounds": "flush",
  "resolve": {
    "scale": {"color": "independent", "strokeDash": "independent", "strokeWidth": "independent"},
    "legend": {"color": "independent", "strokeDash": "independent", "strokeWidth": "independent"}
  },
  "concat": [
    {
      "data": {"name": "p1"},
      "width": 317, "height": 210,
      "title": "Cumulative return of the portfolio 1",
      "mark": {"type": "line"},
      "encoding": {
        "x": {"field": "t", "type": "quantitative", "scale": {"domain": [2014.10, 2024.39], "nice": false, "zero": false}, "axis": {"values": [2016, 2018, 2020, 2022, 2024], "format": "d", "title": "Observation number"}},
        "y": {"field": "v", "type": "quantitative", "scale": {"domain": [0.82, 5.95], "nice": false, "zero": false}, "axis": {"values": [1, 2, 3, 4, 5], "format": "d", "title": "Cumulative return"}},
        "color": {"field": "s", "type": "nominal", "scale": {"domain": ["M", "CM"], "range": ["#000000", "#0000ff"]}, "legend": {"title": null}},
        "strokeDash": {"field": "s", "type": "nominal", "scale": {"domain": ["M", "CM"], "range": [[1, 0], [3, 2]]}, "legend": {"title": null}},
        "strokeWidth": {"field": "s", "type": "nominal", "scale": {"domain": ["M", "CM"], "range": [1.3, 1.8]}, "legend": {"title": null}}
      }
    },
    {
      "data": {"name": "p2"},
      "width": 317, "height": 210,
      "title": "Cumulative return of the portfolio 2",
      "mark": {"type": "line"},
      "encoding": {
        "x": {"field": "t", "type": "quantitative", "scale": {"domain": [2014.10, 2024.39], "nice": false, "zero": false}, "axis": {"values": [2016, 2018, 2020, 2022, 2024], "format": "d", "title": "Observation number"}},
        "y": {"field": "v", "type": "quantitative", "scale": {"domain": [0.61, 11.83], "nice": false, "zero": false}, "axis": {"values": [2, 4, 6, 8, 10], "format": "d", "title": "Cumulative return"}},
        "color": {"field": "s", "type": "nominal", "scale": {"domain": ["M", "CM"], "range": ["#000000", "#0000ff"]}, "legend": {"title": null}},
        "strokeDash": {"field": "s", "type": "nominal", "scale": {"domain": ["M", "CM"], "range": [[1, 0], [3, 2]]}, "legend": {"title": null}},
        "strokeWidth": {"field": "s", "type": "nominal", "scale": {"domain": ["M", "CM"], "range": [1.3, 1.8]}, "legend": {"title": null}}
      }
    },
    {
      "data": {"name": "p3"},
      "width": 317, "height": 210,
      "title": "Cumulative return of the portfolio 3",
      "mark": {"type": "line"},
      "encoding": {
        "x": {"field": "t", "type": "quantitative", "scale": {"domain": [2014.30, 2019.185], "nice": false, "zero": false}, "axis": {"values": [2015, 2016, 2017, 2018, 2019], "format": "d", "title": "Observation number"}},
        "y": {"field": "v", "type": "quantitative", "scale": {"domain": [0.583, 2.99], "nice": false, "zero": false}, "axis": {"values": [1.0, 1.5, 2.0, 2.5], "format": ".1f", "title": "Cumulative return"}},
        "color": {"field": "s", "type": "nominal", "scale": {"domain": ["M", "CM"], "range": ["#000000", "#0000ff"]}, "legend": {"title": null}},
        "strokeDash": {"field": "s", "type": "nominal", "scale": {"domain": ["M", "CM"], "range": [[1, 0], [3, 2]]}, "legend": {"title": null}},
        "strokeWidth": {"field": "s", "type": "nominal", "scale": {"domain": ["M", "CM"], "range": [1.3, 1.8]}, "legend": {"title": null}}
      }
    },
    {
      "data": {"name": "p4"},
      "width": 317, "height": 210,
      "title": "Cumulative return of the portfolio 4",
      "mark": {"type": "line"},
      "encoding": {
        "x": {"field": "t", "type": "quantitative", "scale": {"domain": [2014.30, 2019.185], "nice": false, "zero": false}, "axis": {"values": [2015, 2016, 2017, 2018, 2019], "format": "d", "title": "Observation number"}},
        "y": {"field": "v", "type": "quantitative", "scale": {"domain": [0.68, 3.70], "nice": false, "zero": false}, "axis": {"values": [1.0, 1.5, 2.0, 2.5, 3.0, 3.5], "format": ".1f", "title": "Cumulative return"}},
        "color": {"field": "s", "type": "nominal", "scale": {"domain": ["M", "CM"], "range": ["#000000", "#0000ff"]}, "legend": {"title": null}},
        "strokeDash": {"field": "s", "type": "nominal", "scale": {"domain": ["M", "CM"], "range": [[1, 0], [3, 2]]}, "legend": {"title": null}},
        "strokeWidth": {"field": "s", "type": "nominal", "scale": {"domain": ["M", "CM"], "range": [1.2, 1.1]}, "legend": {"title": null}}
      }
    },
    {
      "data": {"name": "p5"},
      "width": 317, "height": 210,
      "title": "Cumulative return of the portfolio 5",
      "mark": {"type": "line"},
      "encoding": {
        "x": {"field": "t", "type": "quantitative", "scale": {"domain": [2014.30, 2019.185], "nice": false, "zero": false}, "axis": {"values": [2015, 2016, 2017, 2018, 2019], "format": "d", "title": "Observation number"}},
        "y": {"field": "v", "type": "quantitative", "scale": {"domain": [0.634, 2.476], "nice": false, "zero": false}, "axis": {"values": [1.0, 1.5, 2.0], "format": ".1f", "title": "Cumulative return"}},
        "color": {"field": "s", "type": "nominal", "scale": {"domain": ["M", "CM"], "range": ["#000000", "#0000ff"]}, "legend": {"title": null}},
        "strokeDash": {"field": "s", "type": "nominal", "scale": {"domain": ["M", "CM"], "range": [[1, 0], [3, 2]]}, "legend": {"title": null}},
        "strokeWidth": {"field": "s", "type": "nominal", "scale": {"domain": ["M", "CM"], "range": [1.2, 1.1]}, "legend": {"title": null}}
      }
    },
    {
      "data": {"name": "p6"},
      "width": 317, "height": 210,
      "title": "Cumulative return of the portfolio 6",
      "mark": {"type": "line"},
      "encoding": {
        "x": {"field": "t", "type": "quantitative", "scale": {"domain": [2019.295, 2024.178], "nice": false, "zero": false}, "axis": {"values": [2020, 2021, 2022, 2023, 2024], "format": "d", "title": "Observation number"}},
        "y": {"field": "v", "type": "quantitative", "scale": {"domain": [0.466, 3.99], "nice": false, "zero": false}, "axis": {"values": [0.5, 1.0, 1.5, 2.0, 2.5, 3.0, 3.5], "format": ".1f", "title": "Cumulative return"}},
        "color": {"field": "s", "type": "nominal", "scale": {"domain": ["M", "CM"], "range": ["#000000", "#0000ff"]}, "legend": {"title": null}},
        "strokeDash": {"field": "s", "type": "nominal", "scale": {"domain": ["M", "CM"], "range": [[1, 0], [3, 2]]}, "legend": {"title": null}},
        "strokeWidth": {"field": "s", "type": "nominal", "scale": {"domain": ["M", "CM"], "range": [1.2, 1.1]}, "legend": {"title": null}}
      }
    }
  ]
}
